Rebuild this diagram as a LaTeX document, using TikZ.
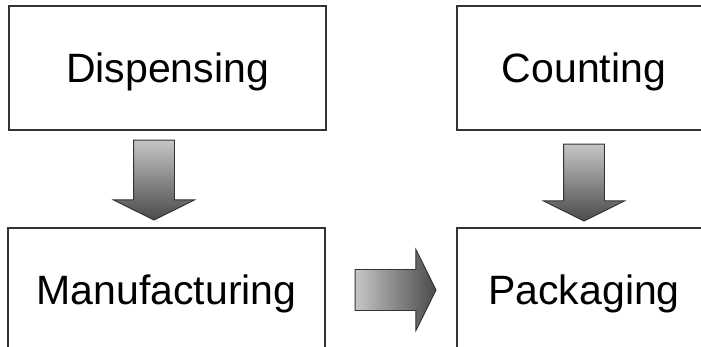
\documentclass[tikz,border=0pt]{standalone}
\usepackage{fontspec}
\setmainfont{Liberation Sans}
\usetikzlibrary{shapes.arrows, positioning, calc}
\definecolor{arrowlight}{HTML}{C6C6C6}
\definecolor{arrowdark}{HTML}{4A4A4A}
\definecolor{boxline}{HTML}{333333}

\begin{document}
\begin{tikzpicture}[x=1pt, y=-1pt,
    stage/.style={rectangle, draw=boxline, line width=1.3pt, fill=white,
      minimum height=124pt, text height=29.4pt, text depth=0pt,
      font=\fontsize{41}{49}\selectfont},
    flowarrow/.style={single arrow, draw=boxline, line width=0.9pt,
      single arrow tip angle=127, single arrow head extend=20pt,
      inner xsep=0pt, inner ysep=20pt, minimum height=80pt, anchor=tail},
    downarrow/.style={flowarrow, rotate=-90, top color=arrowlight, bottom color=arrowdark},
    rightarrow/.style={flowarrow, left color=arrowlight, right color=arrowdark}]
  \useasboundingbox (0,0) rectangle (701,347);
  \clip (0,0) rectangle (701,347);
  % process stages
  \node[stage, minimum width=317pt] (disp) at (167.5,68) {Dispensing};
  \node[stage, minimum width=317pt] (manu) at (166.5,290) {Manufacturing};
  \node[stage, minimum width=254pt] (count) at (584,68) {Counting};
  \node[stage, minimum width=254pt] (pack) at (584,290) {Packaging};
  % block arrows between the stages
  \node[downarrow] (a1) at ($(disp.south)+(-13.5,9)$) {};
  \node[downarrow, minimum height=77pt] (a2) at ($(count.south)+(0,13)$) {};
  \node[rightarrow, minimum height=81pt] (a3) at ($(manu.east)+(29,0)$) {};
\end{tikzpicture}
\end{document}
